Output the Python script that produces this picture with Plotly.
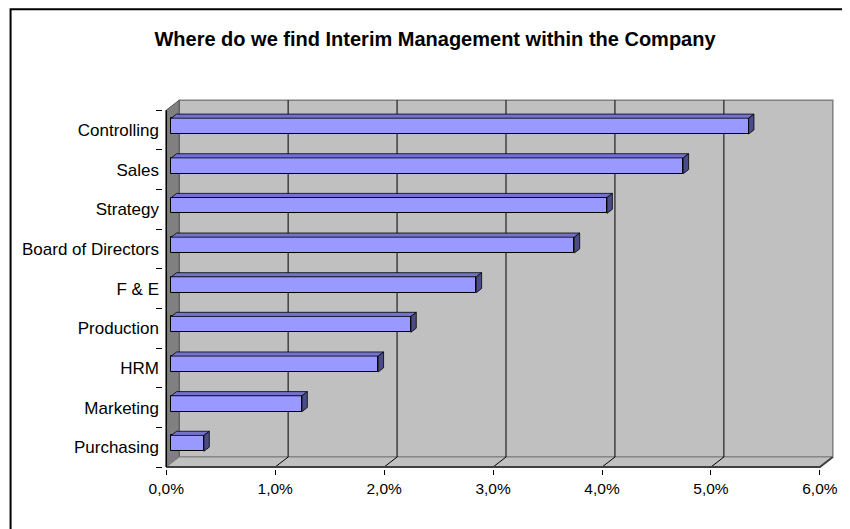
import plotly.graph_objects as go

# ---------------- data ----------------
categories = ["Purchasing", "Marketing", "HRM", "Production", "F & E",
              "Board of Directors", "Strategy", "Sales", "Controlling"]
values = [0.3, 1.2, 1.9, 2.2, 2.8, 3.7, 4.0, 4.7, 5.3]   # percent
x_ticks = [0, 1, 2, 3, 4, 5, 6]
x_tick_labels = ["0,0%", "1,0%", "2,0%", "3,0%", "4,0%", "5,0%", "6,0%"]
title_text = "Where do we find Interim Management within the Company"

# ---------------- geometry / style ----------------
OFF = 8                       # page body margin of the browser
W, H = 850 - OFF, 529 - OFF   # figure size
PX_X = 109.5          # px per percent
PX_Y = 39.67          # px per category
DX = 13 / PX_X        # 3-D depth offset (x units)
DY = 10 / PX_Y        # 3-D depth offset (y units)
XMAX = x_ticks[-1]
NCAT = len(categories)
F1, F2 = 0.385, 0.80  # bar front / back depth fraction
BAR_H = 0.40          # bar thickness (category units)

pad_l, pad_r, pad_b, pad_t = 0.03, 0.02, 0.05, 0.03
x_range = [-pad_l, XMAX + DX + pad_r]
y_range = [-pad_b, NCAT + DY + pad_t]
front_left_px, front_bottom_px = 166 - OFF, 467 - OFF
m_l = front_left_px - pad_l * PX_X
m_r = W - (front_left_px + (x_range[1]) * PX_X)
m_b = H - front_bottom_px - pad_b * PX_Y
m_t = front_bottom_px - (y_range[1]) * PX_Y

BACK = "#C0C0C0"
SIDEWALL = "#808080"
FRONT = "#9999FF"
TOP = "#7373CF"
SIDE = "#4B4B88"
FONT = "Liberation Sans, Arial, sans-serif"

fig = go.Figure()
shapes = []


def path(pts):
    return "M " + " L ".join(f"{x},{y}" for x, y in pts) + " Z"


def wall(pts, fill, lc, lw):
    shapes.append(dict(type="path", xref="x", yref="y", path=path(pts),
                       fillcolor=fill, line=dict(color=lc, width=lw),
                       layer="below"))


def seg(pts, color, width):
    shapes.append(dict(type="path", xref="x", yref="y",
                       path="M " + " L ".join(f"{x},{y}" for x, y in pts),
                       line=dict(color=color, width=width), layer="below"))


# back wall, left wall, floor
wall([(DX, DY), (XMAX + DX, DY), (XMAX + DX, NCAT + DY), (DX, NCAT + DY)],
     BACK, "#808080", 1.5)
wall([(0, 0), (DX, DY), (DX, NCAT + DY), (0, NCAT)], SIDEWALL, "#555555", 1)
wall([(0, 0), (XMAX, 0), (XMAX + DX, DY), (DX, DY)], BACK, "#808080", 1)
# gridlines: floor diagonal + back wall vertical
for t in x_ticks[1:-1]:
    seg([(t, 0), (t + DX, DY), (t + DX, NCAT + DY)], "black", 1)
# front edges
seg([(0, 0), (XMAX, 0), (XMAX + DX, DY)], "#404040", 2)
seg([(0, 0), (0, NCAT)], "black", 1.5)

# bars: front faces through the bar trace
centers = [i + 0.5 + F1 * DY for i in range(NCAT)]
fig.add_trace(go.Bar(x=values, y=centers, base=F1 * DX, orientation="h",
                     width=BAR_H, marker=dict(color=FRONT,
                                              line=dict(color="black", width=1)),
                     hoverinfo="skip", showlegend=False))


def poly(xs, ys, fill):
    fig.add_trace(go.Scatter(x=list(xs) + [xs[0]], y=list(ys) + [ys[0]],
                             mode="lines", fill="toself", fillcolor=fill,
                             line=dict(color="black", width=0.8),
                             hoverinfo="skip", showlegend=False))


# bars: top and side faces
ddx, ddy = (F2 - F1) * DX, (F2 - F1) * DY
for c, v in zip(centers, values):
    x0 = F1 * DX
    x1 = x0 + v
    yb, yt = c - BAR_H / 2, c + BAR_H / 2
    poly([x0, x1, x1 + ddx, x0 + ddx], [yt, yt, yt + ddy, yt + ddy], TOP)
    poly([x1, x1 + ddx, x1 + ddx, x1], [yb, yb + ddy, yt + ddy, yt], SIDE)

pw, ph = W - m_l - m_r, H - m_t - m_b
shapes.append(dict(type="rect", xref="paper", yref="paper",
                   x0=(1.5 - m_l) / pw, x1=(W + 10 - m_l) / pw,
                   y0=-(m_b + 10) / ph, y1=1 + (m_t - 1) / ph,
                   line=dict(color="black", width=2), layer="above"))

fig.update_layout(
    width=W, height=H,
    margin=dict(l=m_l, r=m_r, t=m_t, b=m_b, pad=0),
    paper_bgcolor="white", plot_bgcolor="white",
    font=dict(family=FONT, size=15, color="black"),
    title=dict(text="<b>" + title_text + "</b>", x=(435 - OFF) / W,
               xref="container", xanchor="center", y=1 - (39 - OFF) / H,
               yref="container", yanchor="middle",
               font=dict(size=20, family=FONT)),
    xaxis=dict(range=x_range, tickvals=x_ticks, ticktext=x_tick_labels,
               ticks="outside", ticklen=5, tickcolor="black", showgrid=False,
               zeroline=False, showline=False, fixedrange=True,
               tickfont=dict(size=15.5)),
    yaxis=dict(range=y_range, tickvals=[i + 0.5 for i in range(NCAT)],
               ticktext=categories, ticks="", showgrid=False, zeroline=False,
               showline=False, fixedrange=True, tickfont=dict(size=17),
               minor=dict(tickvals=list(range(NCAT + 1)), ticks="outside",
                          ticklen=6, tickcolor="black"),
               ticklabelstandoff=3),
    bargap=0,
    shapes=shapes,
)

fig.write_html("out.html")
